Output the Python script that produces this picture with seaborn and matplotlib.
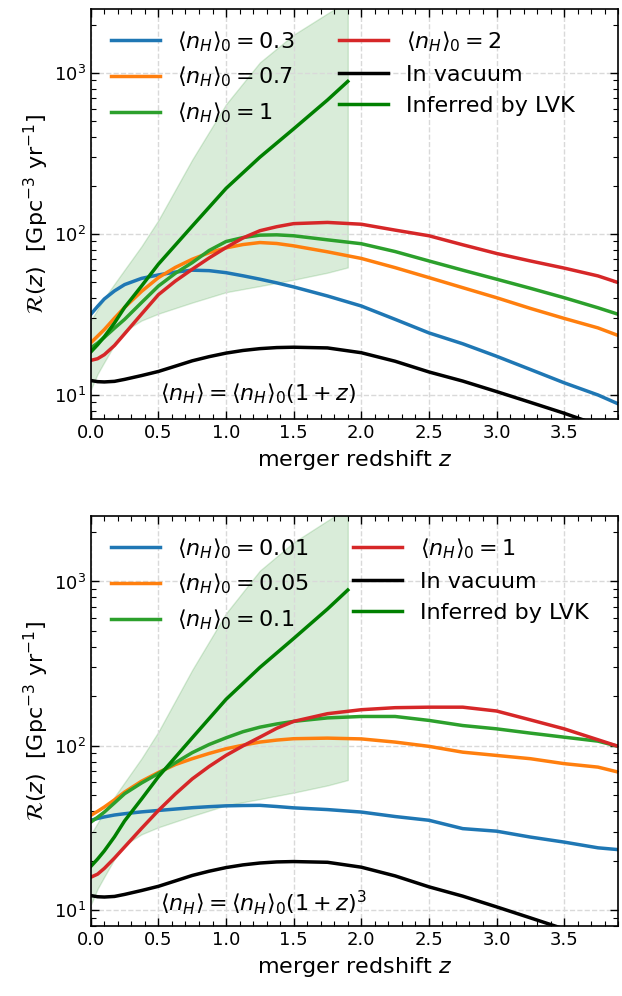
import numpy as np
import pandas as pd
import matplotlib
matplotlib.use("Agg")
import matplotlib.pyplot as plt
from matplotlib.ticker import MultipleLocator
import seaborn as sns

# redshift grid the curves were read at
Z = [0.0, 0.05, 0.1, 0.175, 0.25, 0.375, 0.5, 0.625, 0.75, 0.875, 1.0, 1.125, 1.25, 1.375,
     1.5, 1.75, 2.0, 2.25, 2.5, 2.75, 3.0, 3.25, 3.5, 3.75, 3.9]

# vacuum rate (same in both panels)
R_VAC = [12.3, 12.1, 12.05, 12.15, 12.5, 13.2, 14.0, 15.1, 16.3, 17.3, 18.2, 18.9, 19.4, 19.7,
         19.8, 19.6, 18.3, 16.2, 13.9, 12.2, 10.5, 9.0, 7.7, 6.5, 5.9]

# panel 1: <n_H> = <n_H>_0 (1+z)
TOP_LABELS = ["0.3", "0.7", "1", "2"]
R_TOP_03 = [31.7, 35.5, 39.5, 44.3, 48.5, 53.0, 55.7, 58.0, 59.6, 59.2, 57.5, 55.0, 52.4, 49.7,
            46.9, 41.2, 35.7, 29.5, 24.3, 20.8, 17.4, 14.4, 11.9, 10.0, 8.8]
R_TOP_07 = [21.1, 23.2, 25.5, 30.0, 35.0, 44.0, 53.6, 62.0, 69.7, 76.5, 82.0, 86.0, 88.5, 87.3,
            84.4, 77.5, 70.5, 61.8, 53.6, 46.4, 40.2, 34.5, 29.9, 26.1, 23.4]
R_TOP_1 = [19.6, 21.0, 22.8, 26.0, 29.5, 37.5, 47.5, 57.0, 66.4, 79.0, 89.8, 95.0, 98.4, 98.8,
           97.5, 92.0, 87.0, 77.8, 68.0, 59.6, 52.4, 46.0, 40.2, 34.8, 31.7]
R_TOP_2 = [16.4, 16.8, 17.8, 20.3, 24.0, 31.8, 42.0, 51.0, 60.4, 71.0, 82.4, 94.5, 104.8, 111.0,
           116.0, 118.0, 115.0, 105.7, 97.5, 85.7, 75.7, 68.0, 61.4, 54.9, 49.9]

# panel 2: <n_H> = <n_H>_0 (1+z)^3
BOT_LABELS = ["0.01", "0.05", "0.1", "1"]
R_BOT_001 = [35.3, 36.2, 37.0, 38.0, 38.7, 39.7, 40.5, 41.3, 42.1, 42.7, 43.2, 43.4, 43.5, 42.8,
             42.0, 41.0, 39.6, 37.2, 35.3, 31.4, 30.3, 27.9, 26.0, 24.0, 23.4]
R_BOT_005 = [37.8, 40.0, 42.5, 47.0, 52.4, 61.0, 69.0, 77.0, 83.6, 90.0, 96.1, 101.0, 105.5, 108.5,
             110.6, 111.5, 110.3, 105.5, 99.4, 91.6, 87.5, 83.6, 78.0, 74.3, 69.3]
R_BOT_01 = [34.4, 36.8, 39.6, 45.0, 51.2, 59.5, 68.0, 79.0, 91.0, 102.0, 112.0, 122.0, 130.0, 136.0,
            141.0, 148.0, 151.0, 151.0, 142.9, 133.0, 127.0, 119.6, 113.0, 106.9, 99.4]
R_BOT_1 = [15.9, 16.6, 18.0, 20.8, 24.3, 31.5, 40.5, 51.0, 63.0, 75.0, 87.6, 100.0, 113.0, 128.0,
           141.0, 157.0, 166.0, 170.8, 172.0, 172.0, 163.0, 144.0, 127.0, 109.0, 99.4]

# LVK inferred rate and its band (only up to z = 1.9)
Z_LVK = [0.0, 0.05, 0.1, 0.175, 0.25, 0.375, 0.5, 0.75, 1.0, 1.25, 1.5, 1.75, 1.9]
R_LVK = [18.5, 20.5, 23.0, 28.0, 35.0, 47.5, 65.0, 112.0, 192.0, 300.0, 450.0, 680.0, 887.0]
R_LVK_LO = [10.8, 13.5, 16.0, 20.5, 25.0, 29.0, 32.0, 37.5, 43.5, 47.5, 52.0, 57.5, 62.0]
R_LVK_HI = [29.0, 34.0, 40.0, 49.0, 60.0, 84.0, 122.0, 290.0, 640.0, 1164.0, 1730.0, 2345.0, 2800.0]

COLORS = ["tab:blue", "tab:orange", "tab:green", "tab:red"]

fig, axes = plt.subplots(2, 1, figsize=(6.22, 9.96), dpi=100)
fig.subplots_adjust(left=0.146, right=0.994, top=0.991, bottom=0.070, hspace=0.236)

panels = [
    (axes[0], TOP_LABELS, [R_TOP_03, R_TOP_07, R_TOP_1, R_TOP_2], 7.07,
     r"$\langle n_H \rangle = \langle n_H \rangle_0 (1+z)$", 0.061),
    (axes[1], BOT_LABELS, [R_BOT_001, R_BOT_005, R_BOT_01, R_BOT_1], 8.0,
     r"$\langle n_H \rangle = \langle n_H \rangle_0 (1+z)^3$", 0.058),
]

for ax, labels, series, ymin, note, note_y in panels:
    for lab, vals, col in zip(labels, series, COLORS):
        df = pd.DataFrame({"z": Z, "R": vals})
        sns.lineplot(data=df, x="z", y="R", ax=ax, color=col, lw=2.5,
                     label=r"$\langle n_H \rangle_0 = %s$" % lab)
    sns.lineplot(x=Z, y=R_VAC, ax=ax, color="black", lw=2.5, label="In vacuum")
    sns.lineplot(x=Z_LVK, y=R_LVK, ax=ax, color="green", lw=2.5, label="Inferred by LVK")
    ax.fill_between(Z_LVK, R_LVK_LO, R_LVK_HI, color="green", alpha=0.15, lw=1)

    ax.set_yscale("log")
    ax.set_xlim(0, 3.9)
    ax.set_ylim(ymin, 2500)
    ax.xaxis.set_major_locator(MultipleLocator(0.5))
    ax.xaxis.set_minor_locator(MultipleLocator(0.1))
    ax.tick_params(which="both", direction="in", top=True, right=True, labelsize=13)
    ax.tick_params(which="major", length=6, width=1)
    ax.tick_params(which="minor", length=3.5, width=0.8)
    for sp in ax.spines.values():
        sp.set_linewidth(1.2)
    ax.grid(True, which="major", ls="--", color="#d9d9d9", lw=1)

    ax.set_xlabel(r"merger redshift $z$", fontsize=16)
    ax.set_ylabel(r"$\mathcal{R}(z)$  [Gpc$^{-3}$ yr$^{-1}$]", fontsize=16, labelpad=2)
    ax.text(0.131, note_y, note, transform=ax.transAxes, fontsize=16, va="center")
    ax.legend(loc="upper left", ncol=2, frameon=False, fontsize=16,
              handlelength=2.2, columnspacing=2.0)

fig.savefig("out.png", dpi=100)
